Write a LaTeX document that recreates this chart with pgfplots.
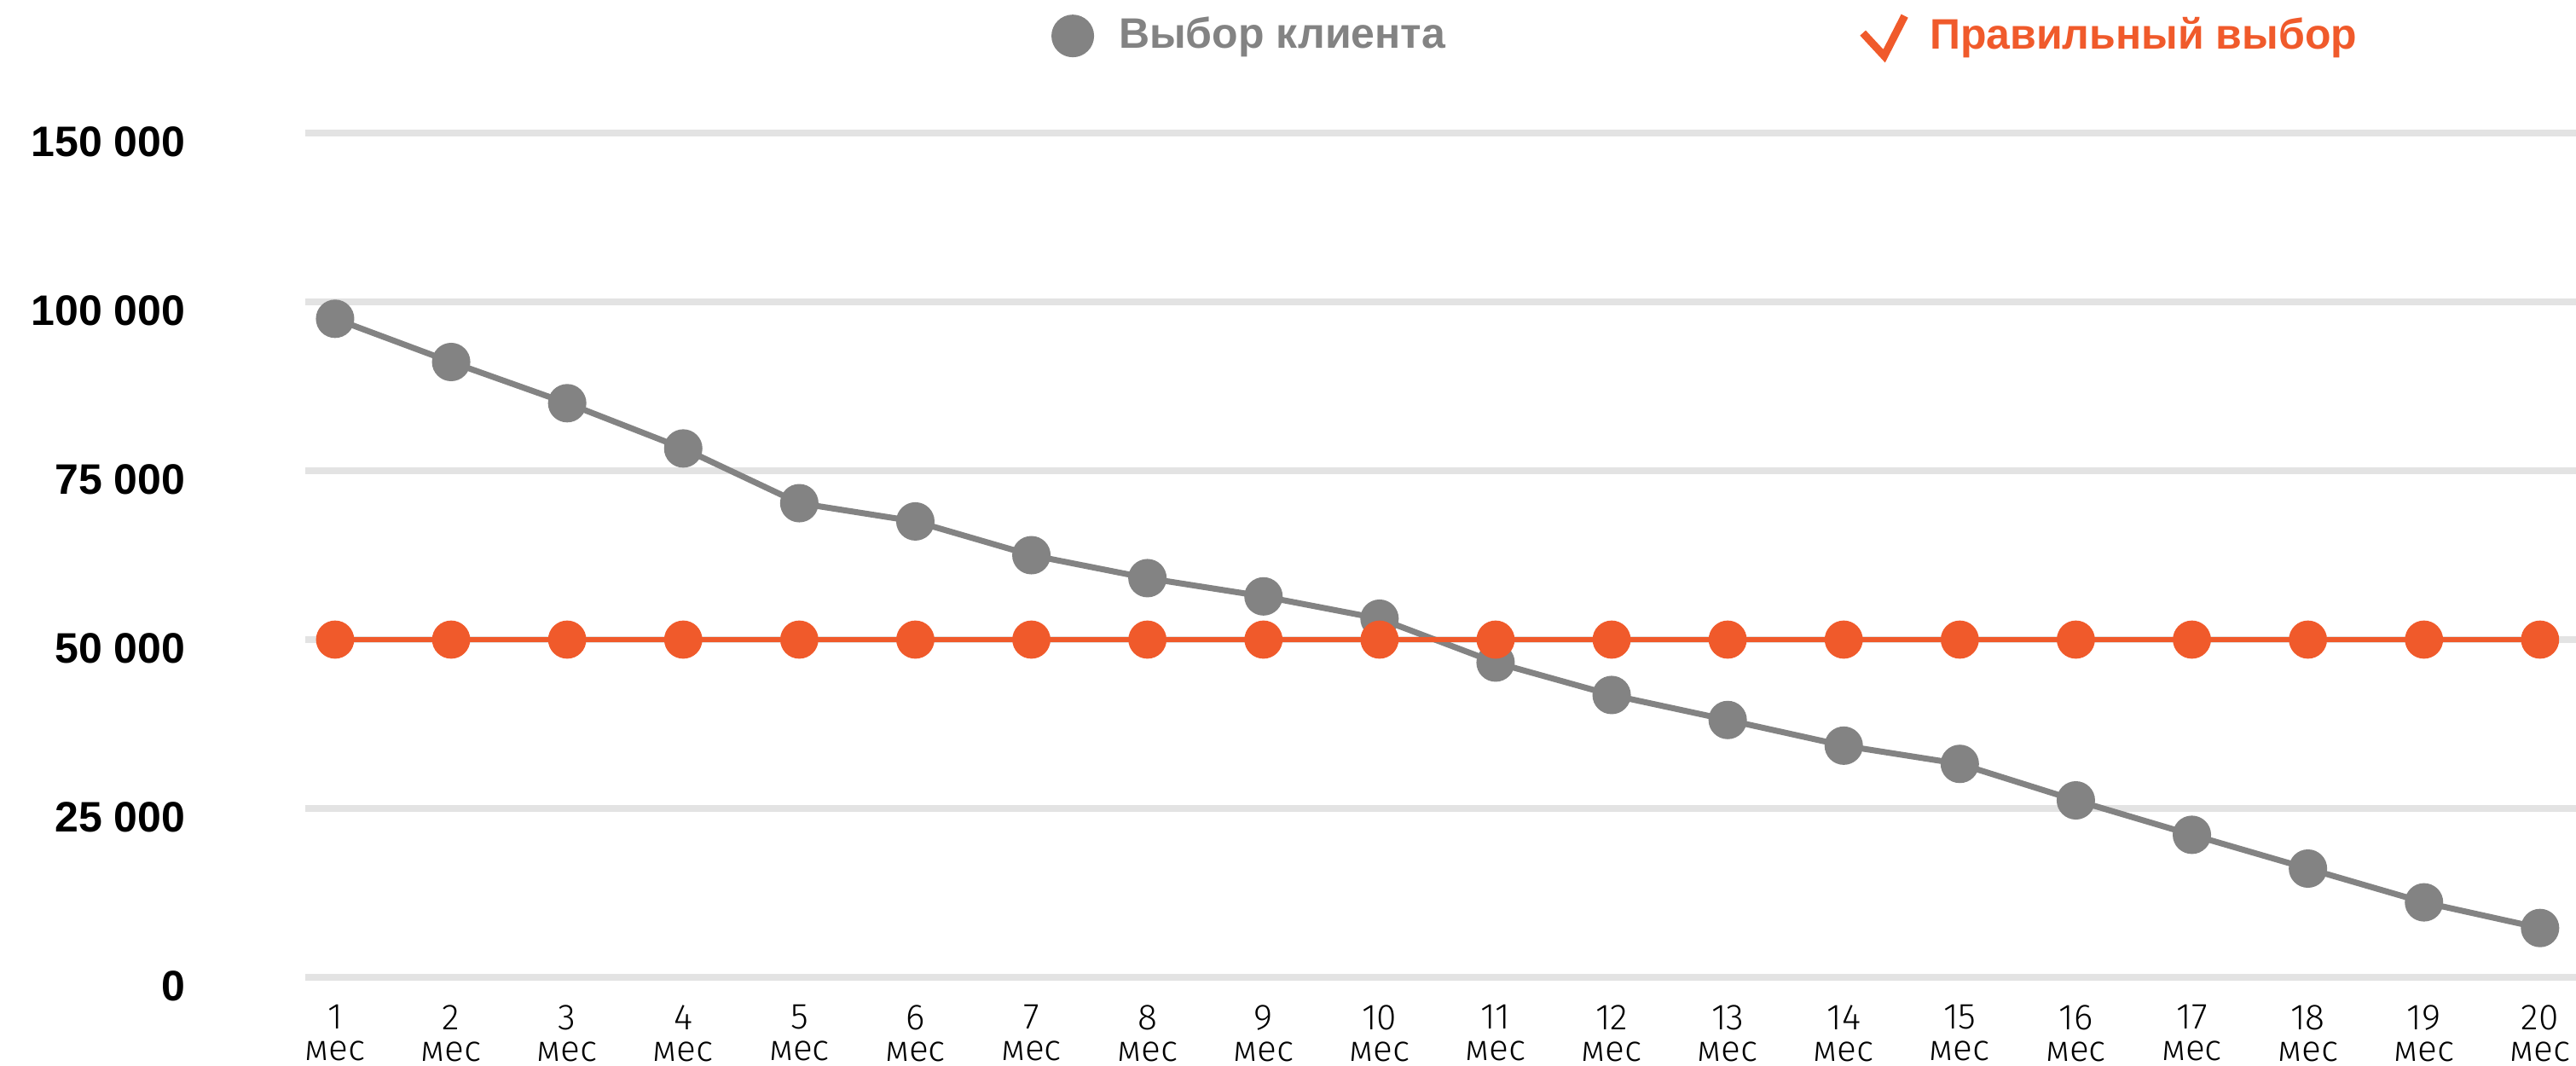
\documentclass[border=0pt]{standalone}
\usepackage{fontspec}
\setmainfont{Liberation Sans}
\newfontfamily\lightfont{Fira Sans Light}
\usepackage{pgfplots}
\pgfplotsset{compat=1.18}
\definecolor{cgray}{HTML}{838383}
\definecolor{corange}{HTML}{F05A2B}
\definecolor{cgrid}{HTML}{E3E3E3}
\begin{document}
\begin{tikzpicture}
\begin{axis}[name=ax, scale only axis, width=532.6pt, height=198pt,
  xmin=0.743, xmax=20.31, ymin=0, ymax=125000,
  axis line style={draw=none}, tick style={draw=none},
  scaled y ticks=false,
  xtick={1,...,20},
  xticklabels={{1\\мес},{2\\мес},{3\\мес},{4\\мес},{5\\мес},{6\\мес},{7\\мес},{8\\мес},{9\\мес},{10\\мес},{11\\мес},{12\\мес},{13\\мес},{14\\мес},{15\\мес},{16\\мес},{17\\мес},{18\\мес},{19\\мес},{20\\мес}},
  ytick={0,25000,50000,75000,100000,125000},
  yticklabels={0,25 000,50 000,75 000,100 000,150 000},
  ymajorgrids, major grid style={line width=1.5pt, cgrid},
  yticklabel style={font=\bfseries\fontsize{10}{12}\selectfont, xshift=-24.6pt, yshift=-2pt},
  xticklabel style={align=center, font=\lightfont\fontsize{8.5}{7.4}\selectfont, yshift=-3pt},
  legend columns=2,
  legend style={at={(0.618,1.115)}, anchor=center, draw=none, fill=none,
    font=\bfseries\fontsize{10}{12}\selectfont,
    /tikz/every even column/.append style={column sep=95pt}},
]
\addlegendimage{legend image code/.code={\fill[cgray] (0pt,0pt) circle (4.8pt); \path (8.6pt,0pt);}}
\addlegendimage{legend image code/.code={\draw[corange, line width=1.8pt, line join=miter] (-4.9pt,0.7pt) -- (0.1pt,-4.7pt) -- (4.9pt,4.7pt); \path (8.6pt,0pt);}}
\addplot[cgray, line width=1.4pt, mark=*, mark size=3.8pt, mark options={fill=cgray, draw=none}, forget plot] coordinates {
(1,97500) (2,91100) (3,85000) (4,78300) (5,70200) (6,67500) (7,62500) (8,59100) (9,56400) (10,53100)
(11,46600) (12,41800) (13,38100) (14,34300) (15,31600) (16,26200) (17,21100) (18,16100) (19,11100) (20,7300)};
\addplot[corange, line width=1.35pt, mark=*, mark size=3.8pt, mark options={fill=corange, draw=none}, forget plot] coordinates {
(1,50000) (2,50000) (3,50000) (4,50000) (5,50000) (6,50000) (7,50000) (8,50000) (9,50000) (10,50000)
(11,50000) (12,50000) (13,50000) (14,50000) (15,50000) (16,50000) (17,50000) (18,50000) (19,50000) (20,50000)};
\legend{\textcolor{cgray}{Выбор клиента},\textcolor{corange}{Правильный выбор}}
\end{axis}
\path (ax.south west) ++(-71.6pt,-20.6pt) coordinate (bl);
\path (ax.north east) ++(0pt,31.2pt) coordinate (tr);
\pgfresetboundingbox
\useasboundingbox (bl) rectangle (tr);
\end{tikzpicture}
\end{document}
